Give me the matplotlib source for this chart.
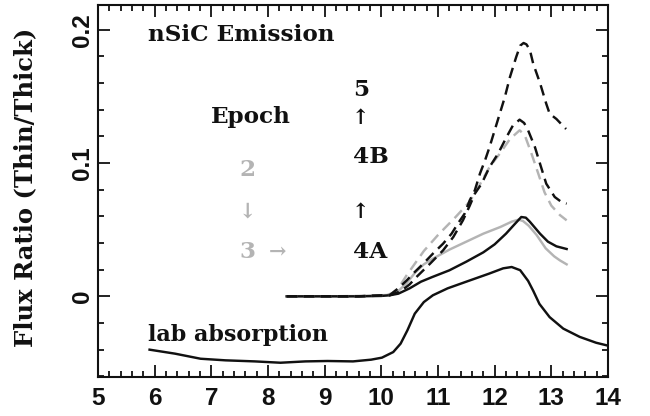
import matplotlib
matplotlib.use("Agg")
import matplotlib.pyplot as plt
from matplotlib.ticker import MultipleLocator, FixedLocator

# ---------------- data ----------------
lab_x = [5.91, 6.36, 6.81, 7.25, 7.77, 8.22, 8.66, 9.05, 9.5, 9.82, 10.01, 10.21,
         10.34, 10.46, 10.59, 10.75, 10.91, 11.17, 11.5, 11.9, 12.15, 12.3, 12.45,
         12.59, 12.68, 12.79, 12.97, 13.21, 13.5, 13.79, 14.0]
lab_y = [-0.040, -0.043, -0.0468, -0.048, -0.0488, -0.0498, -0.0488, -0.0485,
         -0.0488, -0.0475, -0.046, -0.0418, -0.0355, -0.0255, -0.013, -0.0043,
         0.0008, 0.006, 0.011, 0.017, 0.021, 0.022, 0.0196, 0.0116, 0.0042,
         -0.0057, -0.0156, -0.0242, -0.0304, -0.0348, -0.037]

e4a_x = [8.33, 9.0, 9.6, 10.0, 10.15, 10.3, 10.5, 10.7, 10.9, 11.2, 11.5, 11.8,
         12.0, 12.2, 12.35, 12.47, 12.55, 12.62, 12.8, 12.94, 13.09, 13.27]
e4a_y = [0.0, 0.0, 0.0, 0.0003, 0.0008, 0.002, 0.006, 0.011, 0.0145, 0.0195,
         0.026, 0.033, 0.039, 0.047, 0.054, 0.0595, 0.059, 0.056, 0.047, 0.041,
         0.0375, 0.0355]

e3_x = [8.33, 9.0, 9.6, 10.1, 10.3, 10.45, 10.6, 10.75, 10.9, 11.2, 11.5, 11.8,
        12.1, 12.3, 12.42, 12.5, 12.6, 12.74, 12.9, 13.05, 13.15, 13.27]
e3_y = [0.0, 0.0, 0.0002, 0.001, 0.004, 0.010, 0.018, 0.024, 0.028, 0.035, 0.041,
        0.047, 0.052, 0.056, 0.0575, 0.0565, 0.053, 0.046, 0.036, 0.030, 0.027,
        0.024]

e2_x = [8.33, 9.0, 9.6, 10.15, 10.3, 10.45, 10.6, 10.75, 11.0, 11.3, 11.56, 11.74,
        11.91, 12.09, 12.27, 12.44, 12.53, 12.65, 12.77, 12.88, 13.0, 13.15, 13.27]
e2_y = [0.0, 0.0, 0.0002, 0.001, 0.006, 0.016, 0.025, 0.034, 0.046, 0.059, 0.071,
        0.084, 0.097, 0.107, 0.118, 0.1245, 0.121, 0.107, 0.092, 0.078, 0.068,
        0.061, 0.057]

e4b_x = [8.33, 9.0, 9.6, 10.15, 10.35, 10.5, 10.62, 10.86, 11.09, 11.27, 11.44,
         11.56, 11.65, 11.77, 11.91, 12.06, 12.21, 12.32, 12.44, 12.52, 12.59,
         12.71, 12.8, 12.91, 13.06, 13.18, 13.27]
e4b_y = [0.0, 0.0, 0.0, 0.0008, 0.004, 0.009, 0.0145, 0.0245, 0.0345, 0.0445,
         0.057, 0.068, 0.077, 0.0845, 0.097, 0.107, 0.1195, 0.128, 0.1325, 0.130,
         0.1245, 0.112, 0.0995, 0.0845, 0.0745, 0.0707, 0.0695]

e5_x = [8.33, 9.0, 9.6, 10.15, 10.3, 10.45, 10.56, 10.74, 10.91, 11.09, 11.24,
        11.35, 11.47, 11.56, 11.65, 11.74, 11.83, 11.91, 12.0, 12.09, 12.18,
        12.27, 12.38, 12.45, 12.51, 12.56, 12.62, 12.68, 12.8, 12.91, 12.97,
        13.09, 13.18, 13.26]
e5_y = [0.0, 0.0, 0.0, 0.001, 0.006, 0.012, 0.017, 0.0245, 0.032, 0.0395, 0.047,
        0.0545, 0.062, 0.072, 0.0795, 0.092, 0.102, 0.112, 0.1245, 0.137, 0.1495,
        0.1645, 0.1795, 0.188, 0.190, 0.189, 0.185, 0.1745, 0.16, 0.1445, 0.137,
        0.133, 0.129, 0.1255]

x_ticks = [5, 6, 7, 8, 9, 10, 11, 12, 13, 14]
y_ticks = [0, 0.1, 0.2]
y_tick_labels = ["0", "0.1", "0.2"]

# ---------------- figure ----------------
BLACK = "#111111"
GRAY = "#b4b4b4"
serif = ["DejaVu Serif", "DejaVu Sans"]

fig = plt.figure(figsize=(6.5, 4.16), dpi=100)
ax = fig.add_axes([98 / 650, 1 - 377 / 416, 510 / 650, 372 / 416])

lw = 1.75
dash = (0, (4.4, 2.6))
ax.plot(lab_x, lab_y, color=BLACK, lw=lw)
ax.plot(e3_x, e3_y, color=GRAY, lw=lw)
ax.plot(e4a_x, e4a_y, color=BLACK, lw=lw)
ax.plot(e2_x, e2_y, color=GRAY, lw=lw, linestyle=dash)
ax.plot(e4b_x, e4b_y, color=BLACK, lw=lw, linestyle=dash)
ax.plot(e5_x, e5_y, color=BLACK, lw=lw, linestyle=dash)

ax.set_xlim(5, 14)
ax.set_ylim(-0.0605, 0.2185)

ax.xaxis.set_major_locator(FixedLocator(x_ticks))
ax.xaxis.set_minor_locator(MultipleLocator(0.2))
ax.yaxis.set_major_locator(FixedLocator(y_ticks))
ax.yaxis.set_minor_locator(MultipleLocator(0.02))
ax.set_xticklabels([str(t) for t in x_ticks])
ax.set_yticklabels(y_tick_labels)

ax.tick_params(which="both", direction="in", top=True, right=True, width=1.3,
               color=BLACK)
ax.tick_params(which="major", length=8.6)
ax.tick_params(which="minor", length=4.3)
ax.tick_params(axis="x", which="major", pad=7.0)
ax.tick_params(axis="y", which="major", pad=3.0)
for sp in ax.spines.values():
    sp.set_linewidth(1.5)
    sp.set_color(BLACK)

for lab in ax.get_xticklabels():
    lab.set_fontfamily("Liberation Sans")
    lab.set_fontweight("bold")
    lab.set_fontsize(17.5)
    lab.set_color(BLACK)
for lab in ax.get_yticklabels():
    lab.set_fontfamily("Liberation Sans")
    lab.set_fontweight("bold")
    lab.set_fontsize(17.5)
    lab.set_rotation(90)
    lab.set_va("center")
    lab.set_ha("right")
    lab.set_color(BLACK)

ax.set_ylabel("Flux Ratio (Thin/Thick)", family=serif, fontweight="bold",
              fontsize=17.5, color=BLACK)
ax.yaxis.set_label_coords(-0.12, 0.51)

tkw = dict(family=serif, fontweight="bold", color=BLACK)
fs = 16.7
ax.text(5.88, 0.196, "nSiC Emission", fontsize=fs, ha="left", va="center", **tkw)
ax.text(5.88, -0.029, "lab absorption", fontsize=fs - 0.7, ha="left", va="center", **tkw)
ax.text(7.0, 0.1345, "Epoch", fontsize=fs, ha="left", va="center", **tkw)
ax.text(9.5, 0.1545, "5", fontsize=fs, ha="left", va="center", **tkw)
ax.text(9.62, 0.1335, "↑", fontsize=15, ha="center", va="center", **tkw)
ax.text(9.5, 0.1045, "4B", fontsize=fs, ha="left", va="center", **tkw)
ax.text(9.62, 0.0632, "↑", fontsize=15, ha="center", va="center", **tkw)
ax.text(9.5, 0.0332, "4A", fontsize=fs, ha="left", va="center", **tkw)

gkw = dict(family=serif, fontweight="bold", color=GRAY)
ax.text(7.64, 0.0945, "2", fontsize=fs, ha="center", va="center", **gkw)
ax.text(7.64, 0.0632, "↓", fontsize=15, ha="center", va="center", **gkw)
ax.text(7.64, 0.0332, "3", fontsize=fs, ha="center", va="center", **gkw)
ax.text(8.17, 0.0332, "→", fontsize=15, ha="center", va="center", **gkw)

fig.savefig("out.png", dpi=100)
